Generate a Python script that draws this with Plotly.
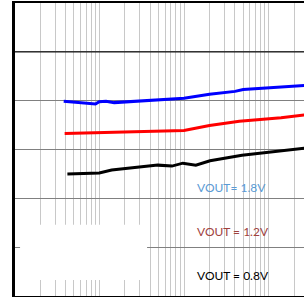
import plotly.graph_objects as go

# Data (x on log scale, y in gridline units)
blue_x = [3.8, 6, 9, 10, 12, 15, 30, 40, 100, 200, 400, 500, 1000, 2300, 2700]
blue_y = [3.99, 3.96, 3.93, 3.98, 3.99, 3.96, 3.99, 4.01, 4.05, 4.13, 4.19, 4.23, 4.26, 4.30, 4.31]

red_x = [3.9, 10, 40, 100, 200, 450, 1400, 2700]
red_y = [3.33, 3.35, 3.37, 3.39, 3.49, 3.58, 3.65, 3.71]

black_x = [4.2, 10, 14, 49, 72, 97, 138, 203, 484, 1094, 2700]
black_y = [2.50, 2.52, 2.58, 2.68, 2.66, 2.72, 2.68, 2.77, 2.88, 2.95, 3.03]

labels = ["VOUT= 1.8V", "VOUT = 1.2V", "VOUT = 0.8V"]
label_colors = ["#5b9bd5", "#a0413d", "#000000"]
label_y = [2.23, 1.33, 0.41]

fig = go.Figure()
fig.add_trace(go.Scatter(x=blue_x, y=blue_y, mode="lines",
                         line=dict(color="#0000ff", width=3), showlegend=False))
fig.add_trace(go.Scatter(x=red_x, y=red_y, mode="lines",
                         line=dict(color="#ff0000", width=3), showlegend=False))
fig.add_trace(go.Scatter(x=black_x, y=black_y, mode="lines",
                         line=dict(color="#000000", width=3), showlegend=False))

for t, c, yy in zip(labels, label_colors, label_y):
    fig.add_annotation(x=2.125, y=yy, xref="x", yref="y", text=t, showarrow=False,
                       xanchor="left", yanchor="middle",
                       font=dict(family="Lato", size=12, color=c))

# white box covering the lower-left grid region
fig.add_shape(type="rect", xref="paper", yref="paper",
              x0=0.0175, x1=0.457, y0=0.055, y1=0.243,
              fillcolor="white", line=dict(width=0), layer="above")
# darker gridline at top division
fig.add_shape(type="line", xref="paper", yref="y", x0=0, x1=1, y0=5, y1=5,
              line=dict(color="#1a1a1a", width=1.3), layer="above")

fig.update_layout(
    width=304, height=297,
    margin=dict(l=15, r=0, t=3, b=1),
    paper_bgcolor="white", plot_bgcolor="white",
    xaxis=dict(type="log", range=[0.0047, 3.4168], dtick="D1",
               showticklabels=False, showgrid=True, gridcolor="#c8c8c8", gridwidth=1,
               zeroline=False, showline=True, linecolor="black", linewidth=2,
               mirror=True, ticks=""),
    yaxis=dict(range=[0, 6], dtick=1, showticklabels=False, showgrid=True,
               gridcolor="#808080", gridwidth=1.3, zeroline=False,
               showline=True, linecolor="black", linewidth=3, mirror=False,
               ticks=""),
)

fig.write_html("out.html", post_script="document.body.style.margin='0';",
               config={"displayModeBar": False})
